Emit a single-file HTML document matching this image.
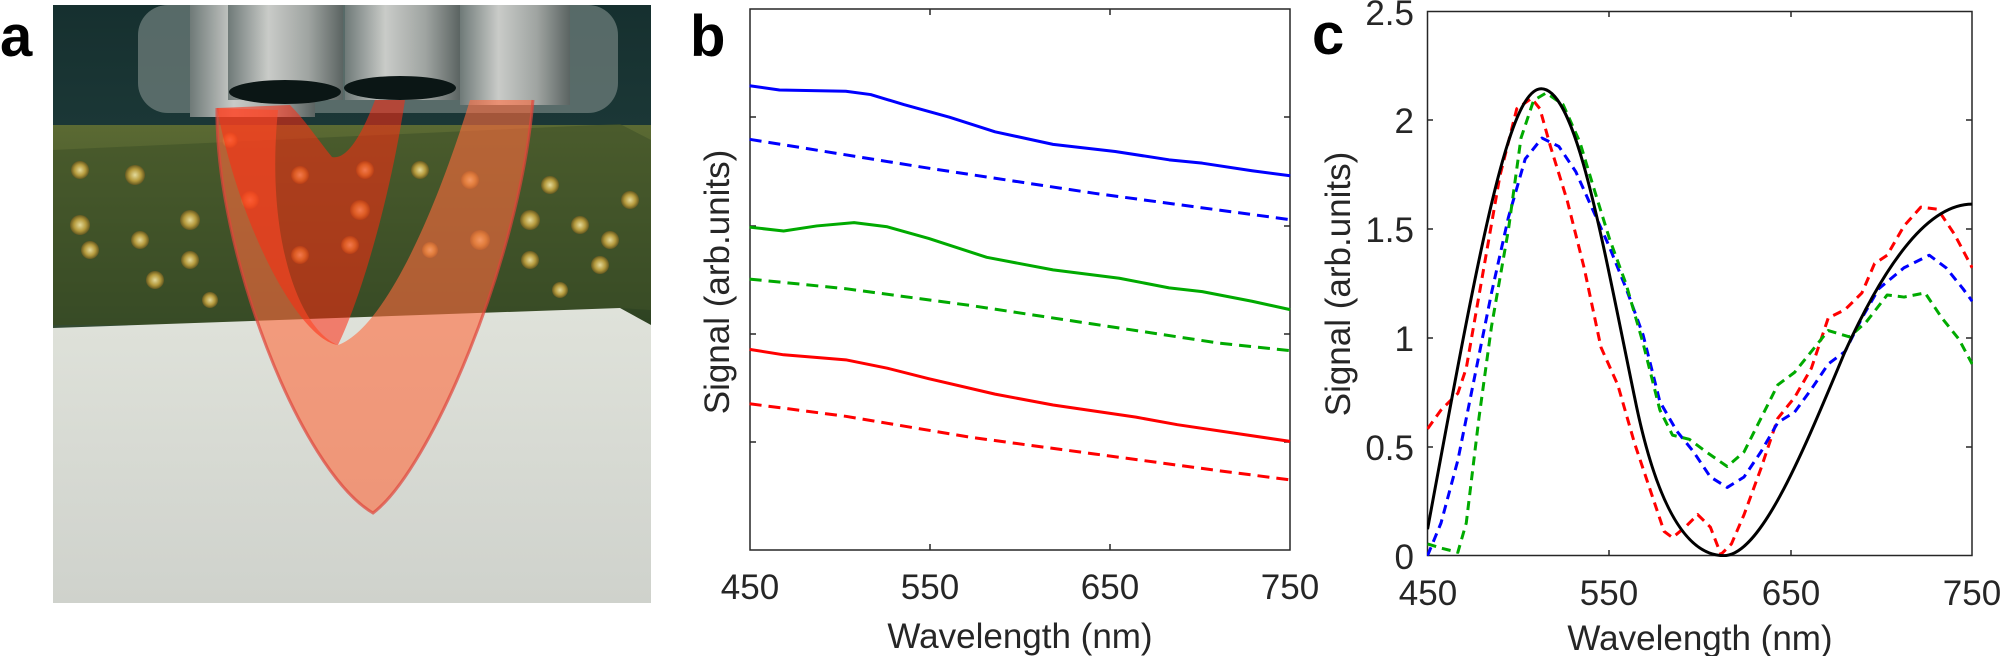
<!DOCTYPE html>
<html><head><meta charset="utf-8"><style>
html,body{margin:0;padding:0;background:#fff;}
svg{display:block;}
text{font-family:"Liberation Sans",Arial,sans-serif;fill:#262626;}
</style></head><body>
<svg width="2000" height="656" viewBox="0 0 2000 656" xmlns="http://www.w3.org/2000/svg">
<defs>
<linearGradient id="bg" x1="0" y1="0" x2="0" y2="1"><stop offset="0" stop-color="#16302f"/><stop offset="1" stop-color="#2f5352"/></linearGradient>
<linearGradient id="cyl" x1="0" y1="0" x2="1" y2="0"><stop offset="0" stop-color="#6f7a78"/><stop offset="0.35" stop-color="#c9cbc8"/><stop offset="0.7" stop-color="#9fa4a1"/><stop offset="1" stop-color="#5b6462"/></linearGradient>
<linearGradient id="grn" x1="0" y1="0" x2="0" y2="1"><stop offset="0" stop-color="#5b6a33"/><stop offset="1" stop-color="#2d4222"/></linearGradient>
<linearGradient id="wht" x1="0" y1="0" x2="0" y2="1"><stop offset="0" stop-color="#dfe2da"/><stop offset="1" stop-color="#cfd2cc"/></linearGradient>
<radialGradient id="bub"><stop offset="0" stop-color="#fff2b0"/><stop offset="0.6" stop-color="#c9a640"/><stop offset="1" stop-color="#6a5a20"/></radialGradient>
<clipPath id="cc"><rect x="1427" y="11" width="546" height="546"/></clipPath>
</defs>

<!-- panel a -->
<text x="0" y="56" font-size="58" font-weight="bold" style="fill:#000">a</text>
<rect x="53" y="5" width="598" height="598" fill="url(#bg)"/>
<rect x="53" y="125" width="598" height="200" fill="url(#grn)"/>
<polygon points="53,150 620,124 651,140 651,310 620,308 53,328" fill="#3f5128" opacity="0.6"/>
<g fill="url(#bub)" opacity="0.85">
<circle cx="80" cy="170" r="9"/><circle cx="135" cy="175" r="10"/><circle cx="80" cy="225" r="10"/><circle cx="90" cy="250" r="9"/><circle cx="190" cy="220" r="10"/><circle cx="140" cy="240" r="9"/><circle cx="190" cy="260" r="9"/><circle cx="155" cy="280" r="9"/><circle cx="230" cy="140" r="8"/><circle cx="210" cy="300" r="8"/><circle cx="300" cy="175" r="9"/><circle cx="365" cy="170" r="9"/><circle cx="360" cy="210" r="10"/><circle cx="350" cy="245" r="9"/><circle cx="300" cy="255" r="9"/><circle cx="470" cy="180" r="9"/><circle cx="480" cy="240" r="10"/><circle cx="530" cy="220" r="10"/><circle cx="550" cy="185" r="9"/><circle cx="580" cy="225" r="9"/><circle cx="610" cy="240" r="9"/><circle cx="600" cy="265" r="9"/><circle cx="630" cy="200" r="9"/><circle cx="530" cy="260" r="9"/><circle cx="560" cy="290" r="8"/><circle cx="420" cy="170" r="9"/><circle cx="430" cy="250" r="8"/><circle cx="250" cy="200" r="9"/></g>
<polygon points="53,328 620,308 651,325 651,603 53,603" fill="url(#wht)"/>
<rect x="138" y="5" width="480" height="108" rx="30" fill="#6e7d7b" opacity="0.75"/>
<rect x="190" y="5" width="125" height="112" fill="url(#cyl)"/>
<rect x="228" y="5" width="115" height="95" fill="url(#cyl)"/>
<rect x="345" y="5" width="115" height="95" fill="url(#cyl)"/>
<rect x="460" y="5" width="110" height="100" fill="url(#cyl)"/>
<ellipse cx="285" cy="92" rx="56" ry="12" fill="#0b1615"/>
<ellipse cx="400" cy="88" rx="56" ry="12" fill="#0b1615"/>
<path d="M217,108 C215,250 300,470 373,513 C430,470 520,260 533,100 L470,100 C430,230 380,330 338,345 C300,330 265,240 278,110 Z" fill="#ff6a3d" opacity="0.6"/>
<path d="M217,108 C240,230 300,340 338,345 C360,300 390,200 405,100 L375,100 C360,140 345,160 332,157 C318,140 305,120 290,105 Z" fill="#ff2a10" opacity="0.55"/>
<path d="M217,108 C215,250 300,470 373,513 C430,470 520,260 533,100" fill="none" stroke="#e0443a" stroke-width="3" opacity="0.7"/>

<!-- panel b -->
<text x="690" y="56" font-size="58" font-weight="bold" style="fill:#000">b</text>
<rect x="750" y="9" width="540" height="541" fill="#fff" stroke="#262626" stroke-width="1.5"/>
<g stroke="#262626" stroke-width="1.5">
<line x1="750" y1="117" x2="756" y2="117"/><line x1="750" y1="226" x2="756" y2="226"/><line x1="750" y1="334" x2="756" y2="334"/><line x1="750" y1="442" x2="756" y2="442"/>
<line x1="1290" y1="117" x2="1284" y2="117"/><line x1="1290" y1="226" x2="1284" y2="226"/><line x1="1290" y1="334" x2="1284" y2="334"/><line x1="1290" y1="442" x2="1284" y2="442"/>
<line x1="930" y1="550" x2="930" y2="544"/><line x1="1110" y1="550" x2="1110" y2="544"/><line x1="930" y1="9" x2="930" y2="15"/><line x1="1110" y1="9" x2="1110" y2="15"/>
</g>
<g font-size="35" text-anchor="middle">
<text x="750" y="599">450</text><text x="930" y="599">550</text><text x="1110" y="599">650</text><text x="1290" y="599">750</text>
<text x="1020" y="648">Wavelength (nm)</text>
<text transform="translate(729,282) rotate(-90)">Signal (arb.units)</text>
</g>
<g transform="translate(680,0) scale(0.4145,0.4184)" fill="none" stroke-linejoin="round">
<polyline vector-effect="non-scaling-stroke" stroke="#0000ff" stroke-width="3" points="168,205 240,215 400,218 460,226 540,250 650,280 760,315 900,345 1050,362 1180,382 1260,390 1380,408 1472,420"/>
<polyline vector-effect="non-scaling-stroke" stroke="#0000ff" stroke-width="3" stroke-dasharray="12,7" points="168,333 600,402 1000,462 1472,525"/>
<polyline vector-effect="non-scaling-stroke" stroke="#00aa00" stroke-width="3" points="168,543 250,552 330,540 420,532 500,542 600,570 740,615 900,645 1060,665 1180,688 1260,697 1380,720 1472,740"/>
<polyline vector-effect="non-scaling-stroke" stroke="#00aa00" stroke-width="3" stroke-dasharray="12,7" points="168,667 400,690 700,730 1000,775 1300,820 1472,838"/>
<polyline vector-effect="non-scaling-stroke" stroke="#ff0000" stroke-width="3" points="168,835 250,848 400,860 500,880 600,905 760,942 900,968 1100,997 1200,1015 1472,1055"/>
<polyline vector-effect="non-scaling-stroke" stroke="#ff0000" stroke-width="3" stroke-dasharray="12,7" points="168,965 400,995 700,1045 1000,1085 1300,1125 1472,1147"/>
</g>

<!-- panel c -->
<text x="1312" y="54" font-size="58" font-weight="bold" style="fill:#000">c</text>
<rect x="1427.5" y="11.5" width="544.5" height="544" fill="none" stroke="#262626" stroke-width="1.5"/>
<g stroke="#262626" stroke-width="1.5">
<line x1="1427" y1="120" x2="1433" y2="120"/><line x1="1427" y1="229" x2="1433" y2="229"/><line x1="1427" y1="338" x2="1433" y2="338"/><line x1="1427" y1="447" x2="1433" y2="447"/>
<line x1="1972" y1="120" x2="1966" y2="120"/><line x1="1972" y1="229" x2="1966" y2="229"/><line x1="1972" y1="338" x2="1966" y2="338"/><line x1="1972" y1="447" x2="1966" y2="447"/>
<line x1="1609" y1="556" x2="1609" y2="550"/><line x1="1791" y1="556" x2="1791" y2="550"/><line x1="1609" y1="11" x2="1609" y2="17"/><line x1="1791" y1="11" x2="1791" y2="17"/>
</g>
<g font-size="35" text-anchor="end">
<text x="1414" y="25">2.5</text><text x="1414" y="133">2</text><text x="1414" y="242">1.5</text><text x="1414" y="351">1</text><text x="1414" y="460">0.5</text><text x="1414" y="569">0</text>
</g>
<g font-size="35" text-anchor="middle">
<text x="1428" y="605">450</text><text x="1609" y="605">550</text><text x="1791" y="605">650</text><text x="1972" y="605">750</text>
<text x="1700" y="650">Wavelength (nm)</text>
<text transform="translate(1350,284) rotate(-90)">Signal (arb.units)</text>
</g>
<g clip-path="url(#cc)"><g transform="translate(1340,0) scale(0.4209,0.4184)" fill="none" stroke-linejoin="round">
<polyline vector-effect="non-scaling-stroke" stroke="#ff0000" stroke-width="3" stroke-dasharray="9,6" points="208,1025 240,980 280,940 300,880 340,650 380,420 420,260 455,235 475,260 500,350 540,480 580,640 620,830 660,920 700,1060 740,1180 770,1270 790,1285 820,1260 850,1230 880,1260 905,1325 930,1300 960,1230 1000,1120 1040,1000 1080,950 1120,880 1160,760 1200,740 1240,700 1270,630 1300,610 1340,540 1380,495 1420,500 1460,560 1502,640"/>
<polyline vector-effect="non-scaling-stroke" stroke="#0000ff" stroke-width="3" stroke-dasharray="9,6" points="208,1328 240,1250 280,1100 320,900 360,700 400,520 440,380 480,330 520,350 560,410 600,500 640,590 680,690 720,800 760,960 800,1030 840,1080 880,1140 920,1165 960,1140 1000,1080 1040,1010 1080,985 1120,930 1160,870 1200,840 1240,760 1280,690 1340,640 1400,610 1440,640 1480,690 1502,720"/>
<polyline vector-effect="non-scaling-stroke" stroke="#00aa00" stroke-width="3" stroke-dasharray="9,6" points="208,1300 240,1310 280,1320 300,1250 330,1000 360,780 400,550 430,330 460,240 490,222 530,250 570,340 600,440 640,570 680,680 720,820 760,980 790,1040 830,1050 870,1080 920,1115 960,1080 1000,1000 1040,920 1080,890 1120,840 1160,790 1210,805 1250,770 1300,705 1340,710 1390,700 1430,760 1470,810 1502,870"/>
<path vector-effect="non-scaling-stroke" stroke="#000" stroke-width="3" d="M208,1265 C330,600 400,212 478,212 C560,212 620,560 700,950 C760,1250 840,1328 912,1328 C1000,1328 1100,1080 1200,840 C1300,620 1400,488 1502,488"/>
</g></g>
</svg>
</body></html>
